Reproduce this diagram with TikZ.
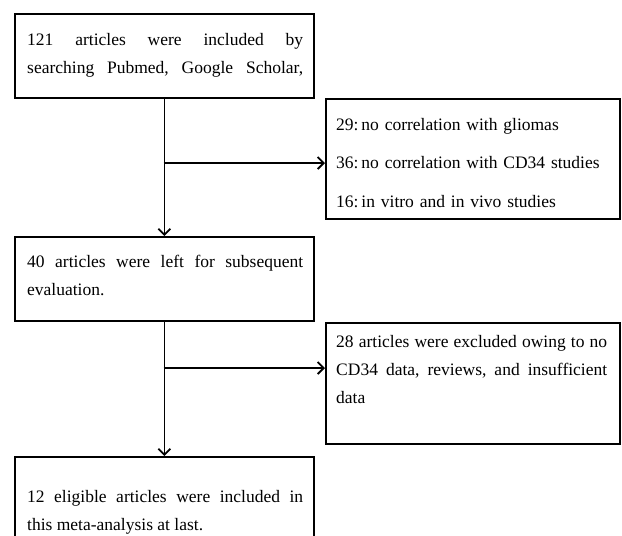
\documentclass[tikz,border=0pt]{standalone}
\usepackage{fontspec}
\setmainfont{Liberation Serif}
\usetikzlibrary{arrows.meta}
\frenchspacing

\tikzset{
    box/.style={draw, line width=1.6pt, anchor=north west, inner sep=0pt},
    txt/.style={anchor=base west, inner sep=0pt, align=justify,
        font=\fontsize{17.5}{28}\selectfont},
    arr/.style={line width=1.5pt, -{Straight Barb[length=6pt,width=12pt,line width=1.8pt]}}
}

\begin{document}
\begin{tikzpicture}[x=1pt, y=-1pt]
    \clip (0,0) rectangle (622,536);
    % boxes
    \node[box, minimum width=299pt, minimum height=84pt] (B1) at (14,13) {};
    \node[box, minimum width=294pt, minimum height=120pt] (B2) at (325,98) {};
    \node[box, minimum width=299pt, minimum height=84pt] (B3) at (14,236) {};
    \node[box, minimum width=294pt, minimum height=121pt] (B4) at (325,322) {};
    \node[box, minimum width=299pt, minimum height=100pt] (B5) at (14,456) {};
    % texts
    \node[txt, text width=276pt] (T1) at (27,45)
        {121 articles were included by\linebreak searching Pubmed, Google Scholar,\unskip\parfillskip=0pt\par};
    \node[txt, text width=275pt, align=left, font=\fontsize{17.5}{38.5}\selectfont] (T2) at (336,130)
        {29:\,no correlation with gliomas\\36:\,no correlation with CD34 studies\\16:\,in vitro and in vivo studies};
    \node[txt, text width=276pt] (T3) at (27,267)
        {40 articles were left for subsequent\linebreak evaluation.};
    \node[txt, text width=271pt] (T4) at (336,347)
        {28 articles were excluded owing to no\linebreak CD34 data, reviews, and insufficient\linebreak data};
    \node[txt, text width=276pt] (T5) at (27,502)
        {12 eligible articles were included in\linebreak this meta-analysis at last.};
    % arrows
    \coordinate (J1) at (163.5,163);
    \coordinate (J2) at (163.5,368);
    \draw[arr] (B1.south) -- (B3.north);
    \draw[arr] (B3.south) -- (B5.north);
    \draw[arr] (J1) -- (J1 -| B2.west);
    \draw[arr] (J2) -- (J2 -| B4.west);
\end{tikzpicture}
\end{document}
